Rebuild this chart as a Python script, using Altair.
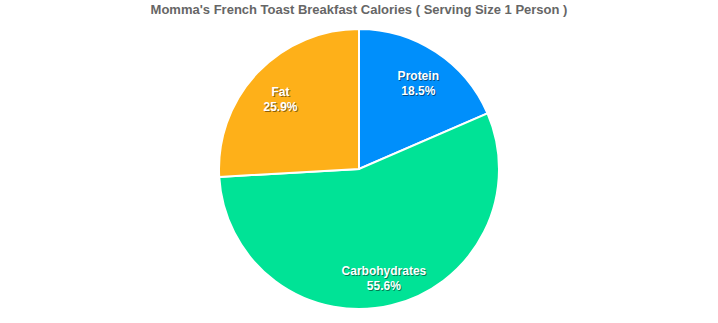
import altair as alt
import pandas as pd

categories = ["Protein", "Carbohydrates", "Fat"]
values = [18.5, 55.6, 25.9]
colors = ["#008FFB", "#00E396", "#FEB019"]

df = pd.DataFrame({
    "cat": categories,
    "value": values,
    "idx": list(range(len(categories))),
    "label": [f"{c}\n{v}%" for c, v in zip(categories, values)],
})

cx, cy = 359, 140
R = 140
LR = 108

base = alt.Chart(df).encode(
    theta=alt.Theta("value:Q", stack=True),
    order=alt.Order("idx:Q"),
    x=alt.value(cx),
    y=alt.value(cy),
)

arcs = base.mark_arc(outerRadius=R, stroke="white", strokeWidth=2).encode(
    color=alt.Color("cat:N", scale=alt.Scale(domain=categories, range=colors), legend=None)
)

shadow = base.mark_text(
    radius=LR, font="Liberation Sans", fontSize=12, fontWeight="bold",
    lineBreak="\n", align="center", baseline="middle", dx=1, dy=-2,
    color="black", opacity=0.45, lineHeight=15,
).encode(text="label:N")

labels = base.mark_text(
    radius=LR, font="Liberation Sans", fontSize=12, fontWeight="bold",
    lineBreak="\n", align="center", baseline="middle", dy=-3,
    color="white", lineHeight=15,
).encode(text="label:N")

chart = alt.layer(arcs, shadow, labels).properties(
    width=718, height=294,
    autosize="none",
    padding={"left": 0, "top": 29, "right": 0, "bottom": 0},
    title=alt.TitleParams(
        "Momma's French Toast Breakfast Calories ( Serving Size 1 Person )",
        font="Liberation Sans", fontSize=13, fontWeight="bold", color="#666666",
        anchor="middle", offset=8,
    ),
).configure_view(stroke=None)

chart.save("out.html", embed_options={"renderer": "svg", "actions": False})
